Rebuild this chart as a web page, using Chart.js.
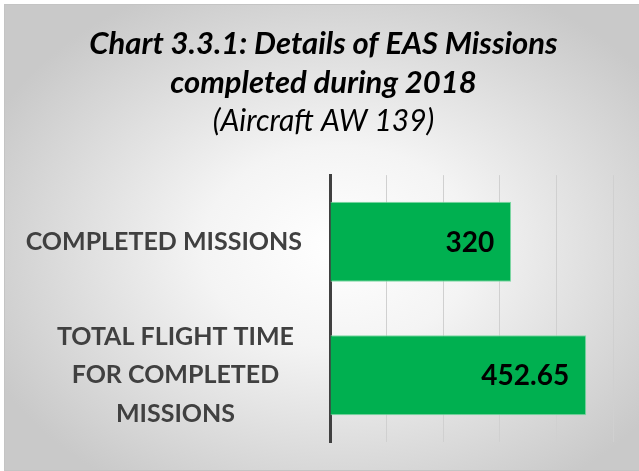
<!DOCTYPE html>
<html>
<head>
<meta charset="utf-8">
<script src="https://cdn.jsdelivr.net/npm/chart.js@4.4.1/dist/chart.umd.min.js"></script>
<style>
  body { margin: 0; width: 639px; height: 471px; overflow: hidden; background: #ffffff; }
  #frame {
    position: absolute; left: 4px; top: 4px; width: 640px; height: 465px;
    border: 1px solid #c4c4c4;
    background: radial-gradient(ellipse 60% 62% at 52% 52%, #ffffff 0%, #f4f4f4 35%, #c9c9c9 100%);
  }
  #chart { position: absolute; left: 0; top: 0; }
</style>
</head>
<body>
<div id="frame"></div>
<canvas id="chart" width="639" height="471"></canvas>
<script>
// Chart data
const categories = [
    ['COMPLETED MISSIONS'],
    ['TOTAL FLIGHT TIME', 'FOR COMPLETED', 'MISSIONS']
];
const values = [320, 452.65];
const valueLabels = ['320', '452.65'];
const axisTicks = [0, 100, 200, 300, 400, 500];

const FONT = 'Lato, "Open Sans", sans-serif';

// Draws the category names centred line by line, next to the axis
const categoryLabels = {
    id: 'categoryLabels',
    afterDraw(chart) {
        const ctx = chart.ctx;
        const yScale = chart.scales.y;
        const right = chart.chartArea.left - 28;
        ctx.save();
        ctx.font = 'bold 25px ' + FONT;
        ctx.fillStyle = '#404040';
        ctx.textBaseline = 'middle';
        ctx.textAlign = 'center';
        categories.forEach((lines, i) => {
            const widths = lines.map(l => ctx.measureText(l).width);
            const blockW = Math.max(...widths);
            const shift = lines.length > 1 ? 8 : 0;
            const cx = right - blockW / 2 - shift;
            const cy = yScale.getPixelForValue(i);
            const lineH = 38.5;
            const top = cy - (lines.length - 1) * lineH / 2;
            lines.forEach((l, j) => ctx.fillText(l, cx, top + j * lineH));
        });
        ctx.restore();
    }
};

// Value labels inside the end of each bar
const valueTags = {
    id: 'valueTags',
    afterDatasetsDraw(chart) {
        const ctx = chart.ctx;
        const meta = chart.getDatasetMeta(0);
        ctx.save();
        ctx.font = 'bold 28px ' + FONT;
        ctx.fillStyle = '#000000';
        ctx.textAlign = 'right';
        ctx.textBaseline = 'middle';
        meta.data.forEach((bar, i) => {
            ctx.fillText(valueLabels[i], bar.x - 17, bar.y + 1);
        });
        ctx.restore();
    }
};

new Chart(document.getElementById('chart'), {
    type: 'bar',
    data: {
        labels: categories.map(c => c.join(' ')),
        datasets: [{
            data: values,
            backgroundColor: '#00b050',
            borderColor: '#7fd8a4',
            borderWidth: 1,
            borderSkipped: 'left',
            barPercentage: 0.6,
            categoryPercentage: 1
        }]
    },
    options: {
        indexAxis: 'y',
        responsive: false,
        animation: false,
        layout: { padding: { left: 34, right: 26, top: 0, bottom: 29 } },
        plugins: {
            legend: { display: false },
            tooltip: { enabled: false },
            title: {
                display: true,
                text: ['Chart 3.3.1: Details of EAS Missions', 'completed during 2018'],
                color: '#000000',
                font: { family: FONT, size: 31, weight: 'bold', style: 'italic', lineHeight: 1.26 },
                padding: { top: 24, bottom: 0 }
            },
            subtitle: {
                display: true,
                text: '(Aircraft AW 139)',
                color: '#000000',
                font: { family: FONT, size: 30, weight: 'normal', style: 'italic', lineHeight: 1.3 },
                padding: { top: 0, bottom: 34 }
            }
        },
        scales: {
            x: {
                min: 0,
                max: axisTicks[axisTicks.length - 1],
                afterBuildTicks: s => { s.ticks = axisTicks.map(v => ({ value: v })); },
                ticks: { display: false },
                grid: { color: '#d0d0d0', lineWidth: 1, drawTicks: false },
                border: { display: false }
            },
            y: {
                ticks: { display: false },
                grid: { display: false },
                border: { display: true, color: '#404040', width: 3 },
                afterFit: s => { s.width = 296; }
            }
        }
    },
    plugins: [categoryLabels, valueTags]
});
</script>
</body>
</html>
